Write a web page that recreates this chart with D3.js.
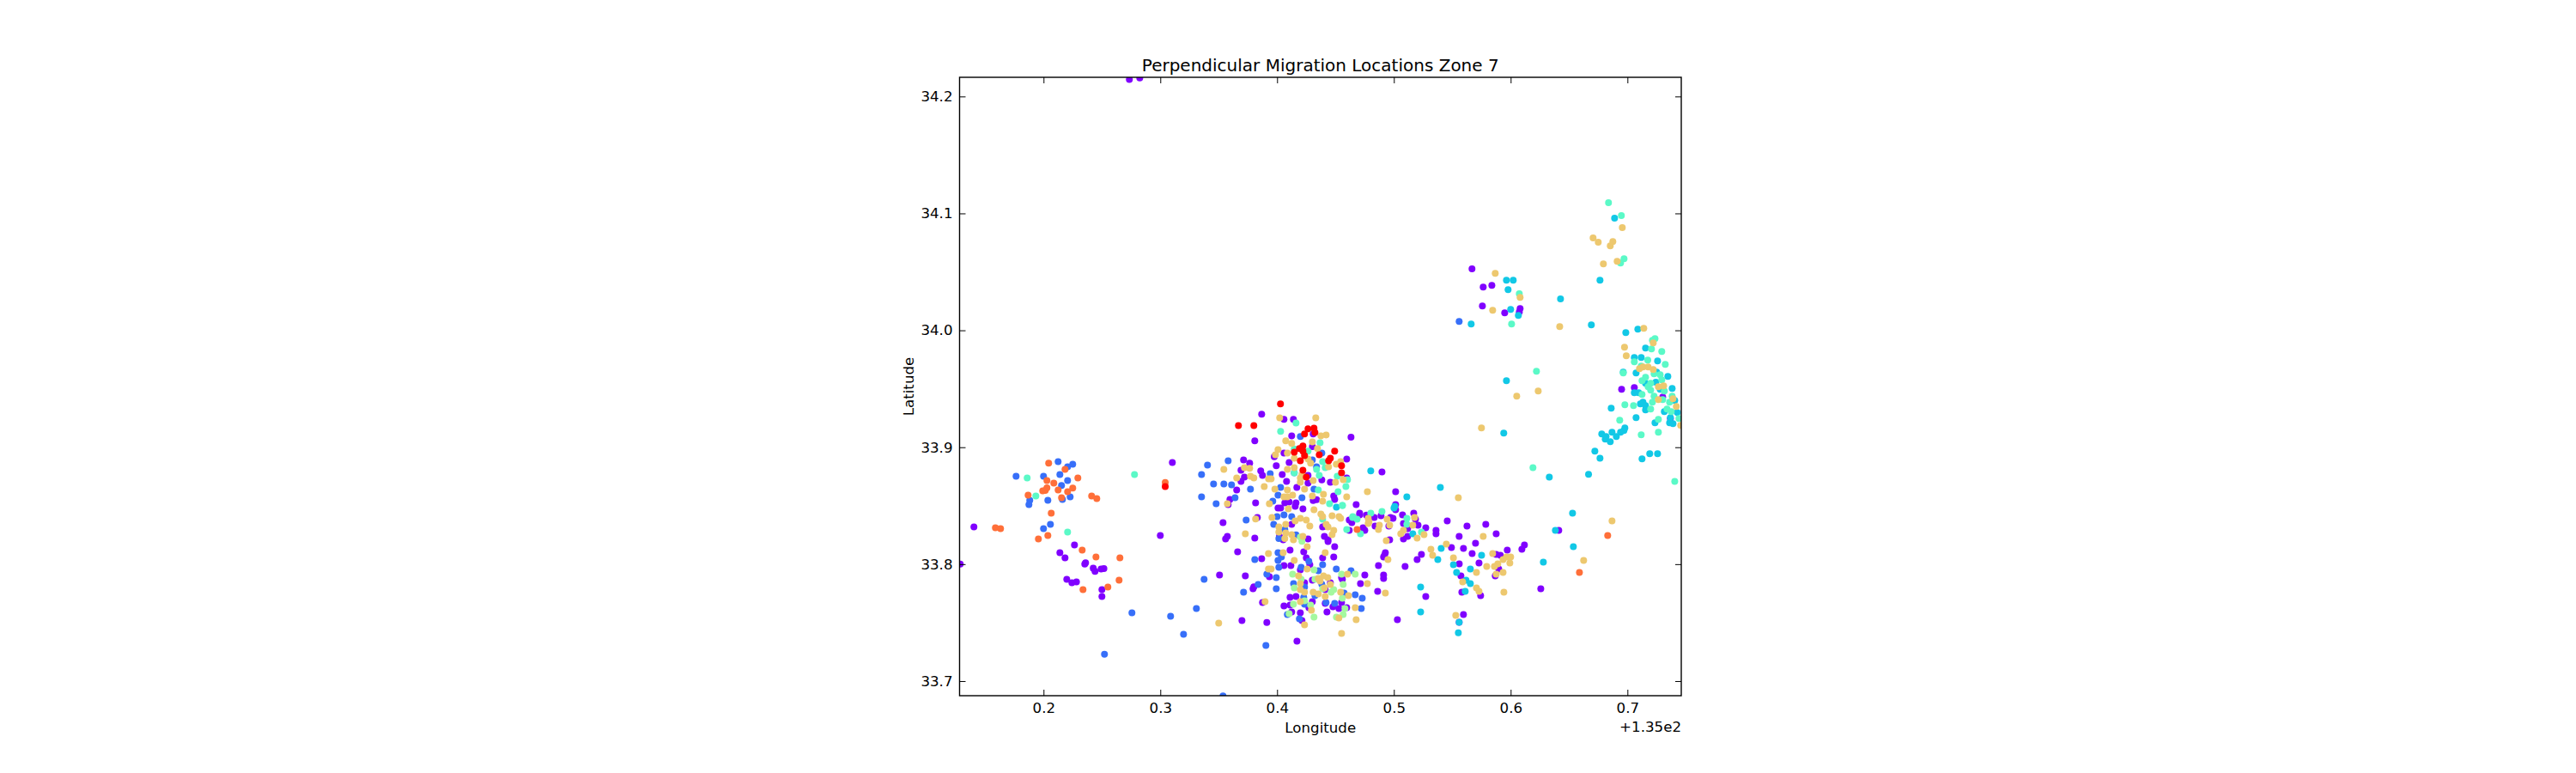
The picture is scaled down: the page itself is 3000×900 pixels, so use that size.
<!DOCTYPE html>
<html>
<head>
<meta charset="utf-8">
<script src="https://cdn.jsdelivr.net/npm/d3@7"></script>
<style>
html, body { margin: 0; background: #fff; }
text { font-family: "DejaVu Sans"; fill: #000; }
</style>
</head>
<body>
<script>
// longitudes are kept as the offset from 135, the axis shows "+1.35e2" like the original
var purple = [
[.1404,33.8319],[.1287,33.8],[.214,33.8098],[.2184,33.8054],[.2265,33.8164],[.2353,33.8],[.236,33.8012],[.2426,33.7966],[.2441,33.7939],[.2493,33.7958],[.2517,33.7963],[.2199,33.787],[.2243,33.7841],[.2282,33.7848],[.25,33.7782],[.25,33.7723],[.2735,34.2145],[.2824,34.2159],[.3103,33.887],[.3,33.8245],
[.3868,33.9282],[.3809,33.9054],[.3713,33.8892],[.3765,33.8863],[.3691,33.8804],[.3654,33.8635],[.3691,33.8708],[.372,33.8745],[.386,33.8797],[.3875,33.876],[.3596,33.8554],[.3581,33.851],[.3537,33.8355],[.3574,33.8238],[.3559,33.8216],[.3816,33.8525],[.3831,33.84],[.3809,33.8223],[.3662,33.8105],[.3868,33.8047],[.3507,33.7907],[.3728,33.79],[.3794,33.7789],[.3801,33.7806],[.3699,33.7517],[.3912,33.7502],[.3875,33.7672],[.3934,33.7892],
[.4059,33.9238],[.414,33.9238],[.4125,33.9098],[.3993,33.8841],[.4044,33.8767],[.4081,33.8708],[.4103,33.887],[.3976,33.8919],[.4059,33.8951],[.4265,33.8693],[.4169,33.8657],[.4265,33.876],[.4383,33.872],[.4302,33.9005],[.4309,33.9113],[.4633,33.9086],[.4596,33.8899],[.4596,33.8738],[.4485,33.8583],[.4493,33.8554],[.4677,33.851],[.4221,33.8473],[.4162,33.8524],[.4155,33.8495],[.4103,33.8532],[.4066,33.8524],[.403,33.848],[.4008,33.848],[.4338,33.8551],[.4309,33.8544],[.4456,33.8701],[.4618,33.8377],[.464,33.8355],[.4405,33.8238],[.4412,33.8326],[.439,33.8318],[.4618,33.8289],[.4125,33.8341],[.402,33.8238],[.4052,33.8208],[.4265,33.8216],[.4436,33.8208],
[.4111,33.812],[.4228,33.8106],[.4436,33.8194],[.4493,33.815],[.439,33.8054],[.4485,33.8062],[.425,33.8054],[.428,33.7995],[.4059,33.7988],[.4118,33.7988],[.4199,33.7951],[.417,33.7341],[.4111,33.7716],[.4162,33.7723],[.4059,33.7643],[.4111,33.765],[.4125,33.7591],[.4199,33.7584],[.4213,33.7518],[.4272,33.7628],[.4302,33.7679],[.4235,33.7841],[.4302,33.7863],[.4456,33.7841],[.4552,33.7885],[.4559,33.787],[.4412,33.7782],[.4412,33.7665],[.4478,33.7635],[.4427,33.7591],[.4529,33.7621],[.4552,33.7672],[.4596,33.7628],
[.4898,33.8789],[.5015,33.862],[.5015,33.851],[.5015,33.8466],[.4707,33.8436],[.4707,33.8422],[.4765,33.842],[.4832,33.84],[.489,33.8414],[.4736,33.8311],[.4751,33.8289],[.4839,33.8326],[.4957,33.8326],[.4971,33.84],[.4993,33.8392],[.5074,33.8422],[.5082,33.8348],[.517,33.8436],[.5185,33.8385],[.5207,33.8333],[.5118,33.8304],[.5273,33.8311],[.5118,33.8238],[.5082,33.8216],[.4964,33.8208],[.5457,33.837],[.5626,33.8326],[.5787,33.8341],[.5361,33.8289],[.5361,33.826],[.5559,33.8238],[.5876,33.826],[.5699,33.8179],[.5596,33.8135],[.5493,33.8142],[.567,33.8091],[.5971,33.812],[.6118,33.8164],[.6096,33.8128],[.4927,33.8098],[.492,33.8076],[.4912,33.8061],[.5236,33.8083],[.5199,33.8039],[.4868,33.7988],[.5096,33.798],[.556,33.8003],[.5729,33.801],[.4912,33.7907],[.4912,33.7878],[.4751,33.7907],[.4714,33.7833],[.4861,33.7767],[.5273,33.7723],[.5582,33.776],[.5574,33.79],[.5743,33.773],[.503,33.7525],[.5596,33.7569],[.5559,33.7503],[.5868,33.79],[.5898,33.7958],[.5876,33.8084],[.5912,33.8076],[.6412,33.8289],[.6258,33.7789],
[.5669,34.0525],[.5765,34.037],[.5839,34.0385],[.5758,34.0209],[.5949,34.015],[.6081,34.0187],[.6074,34.0157],[.695,33.9495],[.7059,33.951],[.7302,33.9429],[.7368,33.9245]
];

var blue = [
[.1765,33.8752],[.2125,33.8877],[.2206,33.8833],[.225,33.8855],[.2,33.8752],[.214,33.8767],[.2206,33.8716],[.2154,33.8672],[.1882,33.8547],[.1875,33.851],[.2037,33.8547],[.2162,33.8554],[.2228,33.8576],[.2059,33.8341],[.2,33.8304],[.2757,33.7583],[.2522,33.723],[.3088,33.7554],[.3309,33.762],[.3199,33.74],[.3375,33.787],[.3904,33.7304],[.3537,33.6873],[.3404,33.8848],[.3353,33.8767],[.3456,33.8686],[.3544,33.8686],[.361,33.8679],[.3581,33.8885],[.3353,33.8576],[.3478,33.8517],[.364,33.8569],[.3772,33.8642],[.3735,33.8377],[.3809,33.8039],[.3713,33.776],[.3838,33.7826],
[.3941,33.8774],[.4199,33.9091],[.4383,33.8951],[.4302,33.8892],[.4338,33.8833],[.4147,33.8782],[.403,33.8657],[.4008,33.8591],[.3963,33.8539],[.4213,33.8568],[.4316,33.8642],[.4059,33.8421],[.4,33.8407],[.4125,33.8407],[.3971,33.8341],[.4066,33.8296],[.4015,33.822],[.4162,33.825],
[.3993,33.7885],[.3993,33.779],[.4008,33.8098],[.4008,33.8032],[.4015,33.7973],[.3912,33.7915],[.4037,33.8062],[.4206,33.7973],[.4272,33.8025],[.439,33.7995],[.4507,33.7959],[.4633,33.7944],[.4353,33.7944],[.4141,33.7834],[.4235,33.7804],[.4228,33.7716],[.4235,33.7657],[.4088,33.7569],[.4191,33.7532],[.4419,33.7672],[.4493,33.7665],[.4574,33.7753],[.4669,33.7738],[.4324,33.7731],[.4383,33.7829],[.4729,33.7708],[.4721,33.762],[.5559,34.0076]
];

var cyan = [
[.4508,33.8488],[.4802,33.8797],[.5398,33.8657],[.5111,33.8576],[.5008,33.8495],[.5001,33.848],[.5162,33.826],[.5405,33.8135],[.5376,33.8039],[.5751,33.8076],[.551,33.7995],[.5537,33.7929],[.5655,33.7958],[.5618,33.7863],[.5655,33.7833],[.5611,33.7767],[.5229,33.7804],[.5229,33.7591],[.5559,33.7503],[.5552,33.7414],
[.5964,34.0429],[.6022,34.0429],[.5978,34.0348],[.6,34.0179],[.6066,34.0128],[.5662,34.0054],[.6427,34.0268],[.6765,34.0429],[.6691,34.0047],[.5964,33.9569],[.5941,33.9121],[.689,34.0959],
[.6986,33.9981],[.7089,34.001],[.7155,33.9848],[.7118,33.9768],[.7059,33.9768],[.7258,33.9738],[.7074,33.9635],[.6964,33.9643],[.7346,33.9606],[.725,33.9643],[.7243,33.9557],[.7155,33.9547],[.7383,33.9503],[.7059,33.9466],[.7096,33.9466],[.7111,33.937],[.7133,33.9385],[.7155,33.9356],[.7155,33.9319],[.6861,33.9334],[.7074,33.9253],[.7316,33.9304],[.7236,33.9209],[.7427,33.9297],[.7361,33.9209],[.739,33.9201],[.7368,33.9253],[.7405,33.94],[.728,33.9495],
[.678,33.9113],[.6817,33.9091],[.681,33.9069],[.6853,33.9047],[.6868,33.9128],[.6905,33.9091],[.6941,33.9128],[.697,33.9143],[.6978,33.9165],[.7125,33.89],[.7191,33.8944],[.7258,33.8944],[.6721,33.8966],[.6765,33.8907],[.6667,33.8768],
[.6331,33.8745],[.653,33.8436],[.6383,33.8289],[.6537,33.815],[.628,33.8017]
];

var teal = [
[.186,33.8738],[.1934,33.8583],[.2206,33.8275],[.2779,33.8767],
[.403,33.9135],[.4162,33.9208],[.4368,33.9039],[.4147,33.8985],[.4265,33.8966],[.439,33.8877],[.4412,33.8826],[.4338,33.8811],[.4361,33.876],[.4515,33.8752],[.4589,33.8664],[.4522,33.862],[.4449,33.8517],[.4559,33.8502],[.4353,33.8635],[.4147,33.8782],[.4647,33.8399],[.4596,33.8296],[.439,33.8385],[.4603,33.8723],
[.4648,33.8407],[.4685,33.8385],[.4802,33.8436],[.4898,33.8451],[.456,33.8503],[.4714,33.826],[.5111,33.8392],[.5111,33.8341],[.5236,33.8275],
[.6074,34.0312],[.6008,34.0054],[.6221,33.965],[.6971,34.0613],[.6941,34.0576],[.6838,34.1091],[.6948,34.0981],[.6191,33.8826],[.7405,33.8708],
[.7236,33.9929],[.7214,33.9915],[.7206,33.9841],[.7294,33.9819],[.7059,33.9731],[.7174,33.9745],[.7324,33.9709],[.7118,33.9694],[.6964,33.9635],[.7228,33.9628],[.728,33.9621],[.7155,33.9598],[.7294,33.9576],[.7125,33.9569],[.7199,33.9547],[.7177,33.9518],[.7199,33.9488],[.7316,33.9481],[.7125,33.9451],[.7228,33.9437],[.7214,33.9385],[.7302,33.9407],[.7383,33.9437],[.7361,33.9385],[.6978,33.9363],[.7052,33.9356],[.7199,33.9326],[.7339,33.9326],[.7375,33.9304],[.7265,33.9238],[.7441,33.9245],[.6934,33.9231],[.7118,33.9106],[.7265,33.9128]
];

var green = [
[.4133,33.7915],[.4316,33.7951],[.4552,33.7915],[.4147,33.7797],[.4206,33.787],[.4324,33.787],[.4566,33.7826],[.4669,33.7915],[.4485,33.7782],[.4463,33.776],[.439,33.779],[.4559,33.7709],[.414,33.7657],[.4235,33.7687],[.4287,33.765],[.4581,33.7621],[.4566,33.7569],[.4508,33.7547],[.4316,33.7547],[.4103,33.7576],[.4213,33.8196],[.4199,33.8233]
];

var tan = [
[.3544,33.8811],[.3654,33.8738],[.372,33.8826],[.3765,33.8819],[.3772,33.8752],[.3801,33.8738],[.3574,33.8517],[.3816,33.8387],[.3728,33.826],[.35,33.7495],[.3897,33.7679],[.3934,33.8517],[.3926,33.8091],[.3926,33.7958],[.3949,33.7958],[.3956,33.84],
[.4022,33.9252],[.4331,33.9252],[.4074,33.9054],[.4125,33.9032],[.4008,33.898],[.3986,33.8936],[.4088,33.8951],[.4302,33.9046],[.4346,33.8988],[.4375,33.9098],[.442,33.9105],[.4147,33.8907],[.4265,33.8899],[.4287,33.8863],[.4088,33.8811],[.4147,33.8826],[.4199,33.8738],[.4213,33.8767],[.4199,33.8701],[.4309,33.8716],[.45,33.8701],[.4441,33.8833],[.4507,33.8855],[.4544,33.8877],[.4566,33.8723],[.4596,33.8576],[.4397,33.8598],[.4302,33.8583],[.439,33.8539],[.4316,33.8466],[.4375,33.8429],[.439,33.8407],[.4471,33.8414],[.453,33.8407],[.4544,33.8392],[.442,33.8341],[.4436,33.8318],[.4485,33.8289],[.4471,33.8252],[.428,33.8326],[.4199,33.8392],[.425,33.8377],[.4155,33.837],[.4074,33.8341],[.4015,33.8318],[.4015,33.8274],[.4074,33.8267],[.4125,33.8252],[.4221,33.8238],[.4066,33.822],[.414,33.8208],[.4235,33.8642],[.4133,33.8591],[.4088,33.8576],[.4059,33.8576],[.4096,33.8473],[.3927,33.873],[.3949,33.873],[.389,33.8664],[.3981,33.8642],[.4088,33.8635],
[.4258,33.815],[.4052,33.8098],[.4147,33.8032],[.4412,33.8098],[.4258,33.7959],[.4184,33.79],[.4603,33.7915],[.4353,33.7878],[.4368,33.7856],[.4397,33.79],[.4434,33.7885],[.4456,33.7826],[.4199,33.7834],[.4199,33.7782],[.4235,33.776],[.4405,33.7797],[.4309,33.776],[.4353,33.7745],[.4412,33.7723],[.4544,33.776],[.4611,33.7731],[.4199,33.7679],[.4294,33.7606],[.4529,33.754],[.4235,33.7481],[.4552,33.7407],[.4669,33.7628],[.4677,33.7525],
[.5552,33.8569],[.4773,33.862],[.4942,33.8385],[.478,33.8392],[.4787,33.8363],[.478,33.8348],[.4876,33.8333],[.4868,33.8297],[.4964,33.8333],[.5177,33.84],[.5162,33.8333],[.5082,33.8289],[.5059,33.826],[.5199,33.8223],[.5258,33.8253],[.4935,33.8201],[.5765,33.8238],[.5449,33.8172],[.5317,33.8128],[.5332,33.8076],[.551,33.8054],[.4949,33.8039],[.5846,33.8091],[.5935,33.8039],[.5964,33.8061],[.6,33.8061],[.5993,33.801],[.589,33.8003],[.5861,33.798],[.5795,33.798],[.5935,33.7929],[.5876,33.7914],[.5707,33.7929],[.5589,33.7848],[.5707,33.7797],[.5729,33.7767],[.5942,33.776],[.553,33.7561],[.4927,33.7752],[.4773,33.7833],
[.5868,34.0488],[.6081,34.0282],[.5846,34.0172],[.642,34.0032],[.6236,33.9481],[.6052,33.9437],[.575,33.9165],[.714,34.0018],[.6956,34.0878],[.6706,34.079],[.675,34.0753],[.6875,34.076],[.6853,34.0723],[.6794,34.0569],[.6912,34.0591],
[.7221,33.9893],[.6975,33.9856],[.699,33.9782],[.7103,33.9672],[.7133,33.9687],[.7177,33.9687],[.7221,33.9665],[.7265,33.9518],[.731,33.9525],[.7265,33.9407],[.739,33.9415],[.7419,33.9348],[.7456,33.9187],
[.6868,33.837],[.6625,33.8032]
];

var orange = [
[.2044,33.8863],[.2184,33.8811],[.2294,33.8738],[.2029,33.8716],[.2088,33.8694],[.2029,33.8652],[.2015,33.863],[.1993,33.8627],[.2125,33.8635],[.2206,33.862],[.225,33.865],[.1868,33.8591],[.2154,33.8569],[.2412,33.8583],[.2456,33.8561],[.2066,33.8436],[.1588,33.8311],[.1632,33.8304],[.1956,33.8216],[.2037,33.8245],[.2331,33.812],[.2449,33.8061],[.2654,33.8054],[.2647,33.7863],[.2551,33.7804],[.2338,33.7782],[.3042,33.8699],[.4685,33.8297],[.6831,33.8245],[.6589,33.7929]
];

var red = [
[.3042,33.8664],[.3669,33.9186],[.3801,33.9186],[.4029,33.937],
[.4235,33.9113],[.4265,33.9157],[.4316,33.9164],[.4324,33.9127],[.4147,33.8958],[.4191,33.8988],[.4221,33.901],[.4221,33.8966],[.4235,33.8929],[.4199,33.8885],[.4221,33.8804],[.425,33.8745],[.4361,33.8936],[.4441,33.8885],[.4456,33.8907],[.4493,33.8966],[.4552,33.8841],[.4552,33.8782]
];

var series = [purple, blue, cyan, teal, green, tan, orange, red];
var seriesColors = ["#8000ff", "#376ff9", "#12c8e6", "#5bf9c7", "#a4f89f", "#edc86f", "#ff6f39", "#ff0000"];

var lonDomain = [0.1281, 0.7461];
var latDomain = [33.6875, 34.2164];
var lonTicks = [0.2, 0.3, 0.4, 0.5, 0.6, 0.7];
var latTicks = [33.7, 33.8, 33.9, 34.0, 34.1, 34.2];

var chartTitle = "Perpendicular Migration Locations Zone 7";
var xName = "Longitude";
var yName = "Latitude";
var offsetText = "+1.35e2";

var left = 1117.5, right = 1958, top_ = 90, bottom = 810;
var tick = 7;

var svg = d3.select("body").append("svg")
    .attr("width", 3000)
    .attr("height", 900)
    .style("display", "block");

var x = d3.scaleLinear().domain(lonDomain).range([left, right]);
var y = d3.scaleLinear().domain(latDomain).range([bottom, top_]);

svg.append("clipPath").attr("id", "plot")
    .append("rect")
    .attr("x", left).attr("y", top_)
    .attr("width", right - left).attr("height", bottom - top_);

// one group per colour, first colours end up underneath
var dots = svg.append("g").attr("clip-path", "url(#plot)");
series.forEach(function(pts, i) {
    dots.append("g").selectAll("circle")
        .data(pts)
        .enter()
        .append("circle")
        .attr("cx", function(d) { return x(d[0]); })
        .attr("cy", function(d) { return y(d[1]); })
        .attr("r", 4)
        .attr("fill", seriesColors[i]);
});

function styleAxis(g) {
    g.select(".domain").remove();
    g.selectAll("line").attr("stroke", "#000").attr("stroke-width", 1);
    g.selectAll("text").style("font-size", "16.67px");
}

var fmt = d3.format(".1f");

svg.append("g").attr("transform", "translate(0," + bottom + ")")
    .call(d3.axisBottom(x).tickValues(lonTicks).tickFormat(fmt).tickSizeInner(-tick).tickPadding(8))
    .call(styleAxis);
svg.append("g").attr("transform", "translate(0," + top_ + ")")
    .call(d3.axisTop(x).tickValues(lonTicks).tickFormat("").tickSizeInner(-tick))
    .call(styleAxis);
svg.append("g").attr("transform", "translate(" + left + ",0)")
    .call(d3.axisLeft(y).tickValues(latTicks).tickFormat(fmt).tickSizeInner(-tick).tickPadding(8))
    .call(styleAxis);
svg.append("g").attr("transform", "translate(" + right + ",0)")
    .call(d3.axisRight(y).tickValues(latTicks).tickFormat("").tickSizeInner(-tick))
    .call(styleAxis);

svg.append("rect")
    .attr("x", left).attr("y", top_)
    .attr("width", right - left).attr("height", bottom - top_)
    .attr("fill", "none")
    .attr("stroke", "#000")
    .attr("stroke-width", 1.4);

svg.append("text")
    .attr("x", (left + right) / 2).attr("y", 83)
    .attr("text-anchor", "middle")
    .style("font-size", "20px")
    .text(chartTitle);

svg.append("text")
    .attr("x", (left + right) / 2).attr("y", 853)
    .attr("text-anchor", "middle")
    .style("font-size", "16.67px")
    .text(xName);

svg.append("text")
    .attr("transform", "translate(1064," + (top_ + bottom) / 2 + ") rotate(-90)")
    .attr("text-anchor", "middle")
    .style("font-size", "16.67px")
    .text(yName);

svg.append("text")
    .attr("x", right).attr("y", 852)
    .attr("text-anchor", "end")
    .style("font-size", "16.67px")
    .text(offsetText);
</script>
</body>
</html>
